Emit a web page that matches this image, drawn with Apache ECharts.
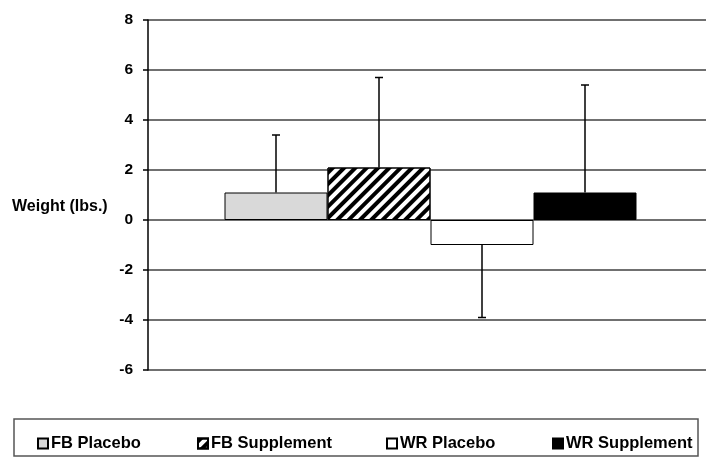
<!DOCTYPE html>
<html>
<head>
<meta charset="utf-8">
<script src="https://cdn.jsdelivr.net/npm/echarts@6/dist/echarts.min.js"></script>
<style>html,body{margin:0;padding:0;background:#fff}#c{width:706px;height:458px}</style>
</head>
<body>
<div id="c"></div>
<script>
const categories = [''];
const seriesNames = ['FB Placebo', 'FB Supplement', 'WR Placebo', 'WR Supplement'];
const means = [1.1, 2.1, -1.0, 1.1];
const errorEnds = [3.4, 5.7, -3.9, 5.4];
const yTicks = [-6, -4, -2, 0, 2, 4, 6, 8];

const BAR_W = 103;
const styles = [
  { color: '#d9d9d9', borderColor: '#000', borderWidth: 1 },
  { color: '#fff', borderColor: '#000', borderWidth: 1,
    decal: { symbol: 'rect', symbolSize: 1, color: '#000', dashArrayX: [1, 0], dashArrayY: [3.3, 3.3], rotation: -Math.PI / 4 } },
  { color: '#fff', borderColor: '#000', borderWidth: 1 },
  { color: '#000', borderColor: '#000', borderWidth: 1 }
];

const chart = echarts.init(document.getElementById('c'), null, { renderer: 'canvas' });
const barSeries = seriesNames.map((n, i) => ({
  name: n, type: 'bar', data: [means[i]], barWidth: BAR_W, barGap: '0%',
  xAxisIndex: 1, yAxisIndex: 1,
  itemStyle: styles[i], emphasis: { disabled: true }, z: 2
}));
const errData = means.map((m, i) => [0, m, errorEnds[i], i]);
const legendLefts = [32, 192, 381, 547];
const legends = seriesNames.map((n, i) => ({
  data: [n], left: legendLefts[i], top: 430, itemWidth: 10, itemHeight: 10, icon: 'rect',
  textStyle: { fontFamily: 'Liberation Sans, Arial, sans-serif', fontWeight: 'bold', fontSize: 16.5, color: '#000', padding: [0, 0, 0, -2] },
  selectedMode: false
}));
const yRange = { type: 'value', min: yTicks[0], max: yTicks[yTicks.length - 1], interval: 2 };

chart.setOption({
  animation: false,
  backgroundColor: '#fff',
  grid: [
    { left: 148, right: 0, top: 20, bottom: 88, containLabel: false },
    { left: 155, right: 0, top: 20, bottom: 88, containLabel: false }
  ],
  legend: legends,
  xAxis: [
    { type: 'category', data: categories, gridIndex: 0,
      axisLine: { show: false }, axisTick: { show: false }, axisLabel: { show: false } },
    { type: 'category', data: categories, gridIndex: 1, show: false }
  ],
  yAxis: [
    Object.assign({}, yRange, {
      gridIndex: 0,
      axisLine: { show: true, lineStyle: { color: '#000', width: 1.5 } },
      axisTick: { show: true, length: 5, lineStyle: { color: '#000', width: 1.5 } },
      axisLabel: { margin: 15, color: '#000', fontWeight: 'bold', fontSize: 15.5, fontFamily: 'Liberation Sans, Arial, sans-serif' },
      splitLine: { show: true, lineStyle: { color: '#404040', width: 1.6 } }
    }),
    Object.assign({}, yRange, { gridIndex: 1, show: false })
  ],
  series: barSeries.concat([{
    type: 'custom', name: 'err', data: errData, z: 3, silent: true,
    xAxisIndex: 1, yAxisIndex: 1,
    renderItem: function (params, api) {
      const cx = api.coord([0, 0])[0];
      const idx = api.value(3);
      const x = cx + (idx - 1.5) * BAR_W;
      const y0 = api.coord([0, api.value(1)])[1];
      const y1 = api.coord([0, api.value(2)])[1];
      const st = { stroke: '#000', lineWidth: 1.5 };
      return { type: 'group', children: [
        { type: 'line', shape: { x1: x, y1: y0, x2: x, y2: y1 }, style: st },
        { type: 'line', shape: { x1: x - 4, y1: y1, x2: x + 4, y2: y1 }, style: st }
      ] };
    }
  }]),
  graphic: [
    { type: 'text', left: 12, top: 199, style: { text: 'Weight (lbs.)', fill: '#000', font: 'bold 16px "Liberation Sans", Arial, sans-serif' } },
    { type: 'rect', shape: { x: 14, y: 419, width: 684, height: 37 }, style: { fill: 'none', stroke: '#555', lineWidth: 1.5 }, silent: true }
  ]
});
</script>
</body>
</html>
